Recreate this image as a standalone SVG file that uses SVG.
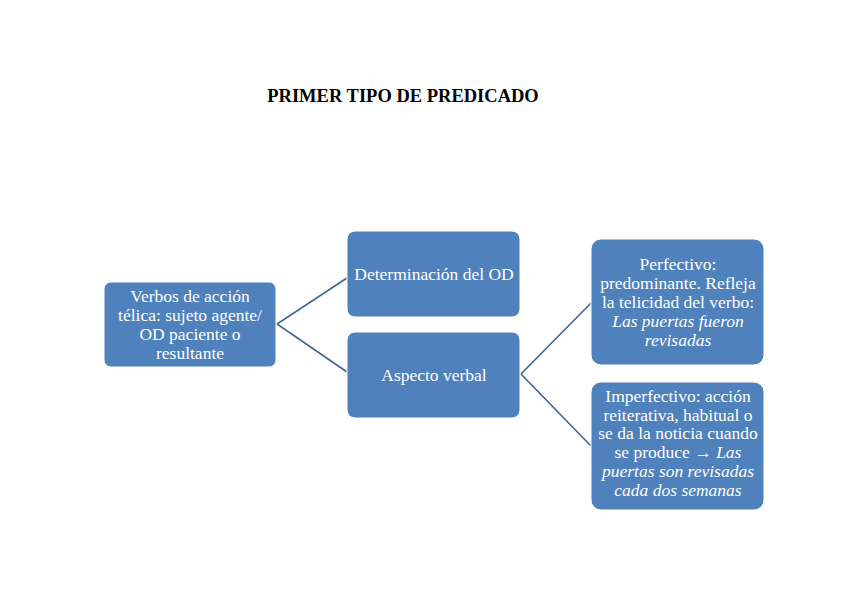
<svg xmlns="http://www.w3.org/2000/svg" width="848" height="599" viewBox="0 0 848 599">
<style>
.box{fill:#4F81BD;stroke:#ffffff;stroke-width:1}
.t{font-family:"Liberation Serif","Times New Roman",serif;font-size:17.5px;fill:#ffffff;text-anchor:middle}
.i{font-style:italic}
.ln{stroke:#3E6593;stroke-width:1.6;fill:none}
.title{font-family:"Liberation Serif","Times New Roman",serif;font-size:18.5px;font-weight:bold;fill:#000;text-anchor:middle}
</style>
<rect width="848" height="599" fill="#ffffff"/>
<text class="title" x="403" y="102">PRIMER TIPO DE PREDICADO</text>
<g id="connectors">
<polyline class="ln" points="347,278 277,324 347,372"/>
<polyline class="ln" points="591,303 521,374 591,446"/>
</g>
<g id="n1">
<rect class="box" x="104" y="282" width="172" height="85" rx="7"/>
<text class="t" x="190" y="302">Verbos de acción</text>
<text class="t" x="190" y="321">télica: sujeto agente/</text>
<text class="t" x="190" y="340">OD paciente o</text>
<text class="t" x="190" y="359">resultante</text>
</g>
<g id="n2">
<rect class="box" x="347" y="231" width="173" height="86" rx="8"/>
<text class="t" x="434" y="280">Determinación del OD</text>
</g>
<g id="n3">
<rect class="box" x="347" y="332" width="173" height="86" rx="8"/>
<text class="t" x="434" y="381">Aspecto verbal</text>
</g>
<g id="n4">
<rect class="box" x="591" y="239" width="173" height="126" rx="10"/>
<text class="t" x="678" y="270">Perfectivo:</text>
<text class="t" x="678" y="289">predominante. Refleja</text>
<text class="t" x="678" y="308">la telicidad del verbo:</text>
<text class="t i" x="678" y="327">Las puertas fueron</text>
<text class="t i" x="678" y="346">revisadas</text>
</g>
<g id="n5">
<rect class="box" x="591" y="382" width="173" height="128" rx="10"/>
<text class="t" x="678" y="402">Imperfectivo: acción</text>
<text class="t" x="678" y="420.7">reiterativa, habitual o</text>
<text class="t" x="678" y="439.4">se da la noticia cuando</text>
<text class="t" x="678" y="458.1">se produce → <tspan class="i">Las</tspan></text>
<text class="t i" x="678" y="476.8">puertas son revisadas</text>
<text class="t i" x="678" y="495.5">cada dos semanas</text>
</g>
</svg>
